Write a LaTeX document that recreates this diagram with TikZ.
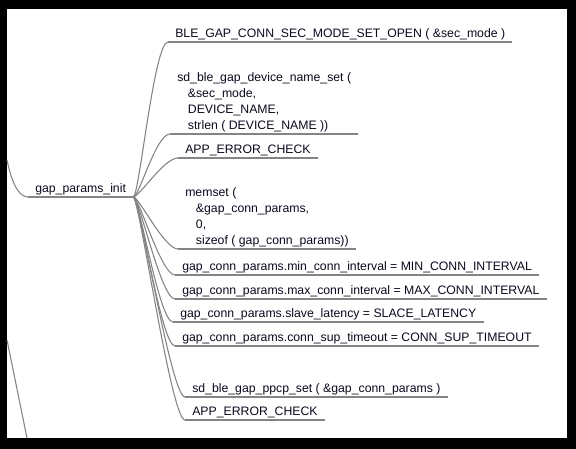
\documentclass[tikz,border=0pt]{standalone}
\usepackage{fontspec}
\setmainfont{Liberation Sans}
\usepackage{xcolor}
\definecolor{linkgray}{RGB}{132,132,132}
\definecolor{txtdark}{RGB}{10,10,30}
\newcommand{\argind}{\hspace*{8pt}}
\usepackage{tikz}

\begin{document}
\begin{tikzpicture}[x=0.75pt, y=-0.75pt,
	leaf/.style={anchor=south west, align=left, inner xsep=5.25pt, inner ysep=1.5pt,
	             text depth=2pt, text=txtdark, font=\fontsize{9.2}{12}\selectfont},
	link/.style={draw=linkgray, line width=0.8pt}
	]
\useasboundingbox (0,0) rectangle (576,449);
\fill[black] (0,0) rectangle (576,449);
\fill[white] (7,9) rectangle (567,438);

\node[leaf] (root) at (28,197) {gap\_params\_init};

\node[leaf] (c1) at (168,42) {BLE\_GAP\_CONN\_SEC\_MODE\_SET\_OPEN ( \&sec\_mode )};
\node[leaf] (c2) at (170,134)
  {sd\_ble\_gap\_device\_name\_set (\\
   \argind\&sec\_mode,\\
   \argind DEVICE\_NAME,\\
   \argind strlen ( DEVICE\_NAME ))};
\node[leaf] (c3) at (178,158) {APP\_ERROR\_CHECK};
\node[leaf] (c4) at (178,249)
  {memset (\\
   \argind\&gap\_conn\_params,\\
   \argind 0,\\
   \argind sizeof ( gap\_conn\_params))};
\node[leaf] (c5) at (175,275) {gap\_conn\_params.min\_conn\_interval = MIN\_CONN\_INTERVAL};
\node[leaf] (c6) at (175,299) {gap\_conn\_params.max\_conn\_interval = MAX\_CONN\_INTERVAL};
\node[leaf] (c7) at (173,322) {gap\_conn\_params.slave\_latency = SLACE\_LATENCY};
\node[leaf] (c8) at (175,346) {gap\_conn\_params.conn\_sup\_timeout = CONN\_SUP\_TIMEOUT};
\node[leaf] (c9) at (185,397) {sd\_ble\_gap\_ppcp\_set ( \&gap\_conn\_params )};
\node[leaf] (c10) at (185,420) {APP\_ERROR\_CHECK};

\coordinate (up) at (7,160);
\coordinate (down) at (7,340);
\coordinate (downend) at (27,438);

\foreach \n in {root,c1,c2,c3,c4,c5,c6,c7,c8,c9,c10}
  \draw[link] (\n.south west) -- (\n.south east);
\foreach \n in {c1,c2,c3,c4,c5,c6,c7,c8,c9,c10}
  \draw[link] (root.south east) .. controls +(6,0) and +(-14,0) .. (\n.south west);

\draw[link] (up) .. controls +(3,14) and +(-12,0) .. (root.south west);
\draw[link] (down) -- (downend);
\end{tikzpicture}
\end{document}
